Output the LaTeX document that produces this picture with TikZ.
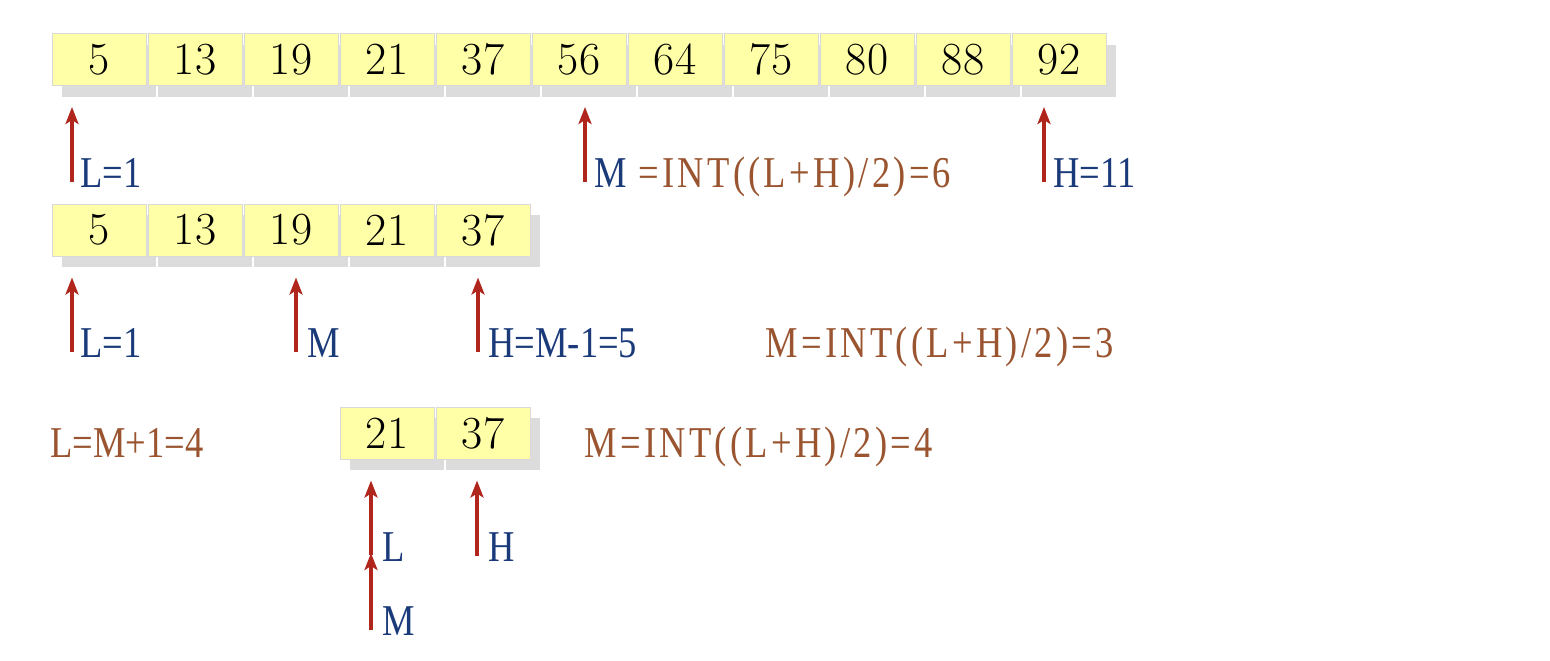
\documentclass[tikz,border=0pt]{standalone}
\usepackage{fontspec}
\usepackage{tikz}
\usetikzlibrary{arrows.meta,shadows}
\newfontfamily\lblfont[FakeStretch=0.83]{Liberation Serif}
\newfontfamily\formfont[FakeStretch=0.83,LetterSpace=7.5]{Liberation Serif}
\definecolor{cellfill}{HTML}{FFFFA8}
\definecolor{celledge}{HTML}{D9D9D9}
\definecolor{cellshadow}{HTML}{DCDCDC}
\definecolor{ptrred}{HTML}{B0261C}
\definecolor{lblblue}{HTML}{1A3A7A}
\definecolor{lblbrown}{HTML}{9A5530}
\begin{document}
\begin{tikzpicture}[x=0.5pt,y=-0.5pt,
cell/.style={draw=celledge,line width=0.5pt,fill=cellfill,minimum width=47pt,minimum height=26pt,inner sep=0pt,font=\fontsize{23}{28}\selectfont,drop shadow={shadow xshift=5pt,shadow yshift=-5.5pt,fill=cellshadow,opacity=1}},
lbl/.style={anchor=base west,inner sep=0pt,font=\lblfont\fontsize{22}{26}\selectfont,text=lblblue},
formula/.style={anchor=base west,inner sep=0pt,font=\formfont\fontsize{22}{26}\selectfont,text=lblbrown},
ptr/.style={-{Stealth[length=8.5pt,width=6.5pt,inset=2pt]},line width=2pt,ptrred,shorten >=10.5pt}]
\useasboundingbox[fill=white] (0,0) rectangle (1550,660);
% first pass: whole array
\foreach \v [count=\i from 0] in {5,13,19,21,37,56,64,75,80,88,92}
  \node[cell] (a\i) at ({99+96*\i},59.5) {\v};
\coordinate (tL1) at (72,182);
\coordinate (tM1) at (585,182);
\coordinate (tH1) at (1044,182);
\draw[ptr] (tL1) -- (tL1 |- a0.south);
\draw[ptr] (tM1) -- (tM1 |- a5.south);
\draw[ptr] (tH1) -- (tH1 |- a10.south);
\node[lbl] (L1) at (80,187) {L=1};
\node[lbl] (M1) at (594,187) {M};
\node[formula] (calc1) at (638,187) {=INT((L+H)/2)=6};
\node[lbl] (H1) at (1053,187) {H=11};
% second pass: left half
\foreach \v [count=\i from 0] in {5,13,19,21,37}
  \node[cell] (b\i) at ({99+96*\i},230) {\v};
\coordinate (tL2) at (72,352);
\coordinate (tM2) at (296,352);
\coordinate (tH2) at (478,352);
\draw[ptr] (tL2) -- (tL2 |- b0.south);
\draw[ptr] (tM2) -- (tM2 |- b2.south);
\draw[ptr] (tH2) -- (tH2 |- b4.south);
\node[lbl] (L2) at (80,357) {L=1};
\node[lbl] (M2) at (307,357) {M};
\node[lbl] (H2) at (488,357) {H=M-1=5};
\node[formula] (calc2) at (765,357) {M=INT((L+H)/2)=3};
% third pass: two cells left
\node[cell] (c3) at (387,433) {21};
\node[cell] (c4) at (483,433) {37};
\coordinate (tL3) at (371,555);
\coordinate (tH3) at (477,556);
\coordinate (tM3) at (371,630);
\draw[ptr] (tL3) -- (tL3 |- c3.south);
\draw[ptr] (tH3) -- (tH3 |- c4.south);
\draw[ptr,shorten >=-1pt] (tM3) -- (tL3);
\node[lbl,text=lblbrown] (Lnew) at (50,457) {L=M+1=4};
\node[formula] (calc3) at (584,457) {M=INT((L+H)/2)=4};
\node[lbl] (L3) at (382,561) {L};
\node[lbl] (H3) at (488,561) {H};
\node[lbl] (M3) at (382,635) {M};
\end{tikzpicture}
\end{document}
